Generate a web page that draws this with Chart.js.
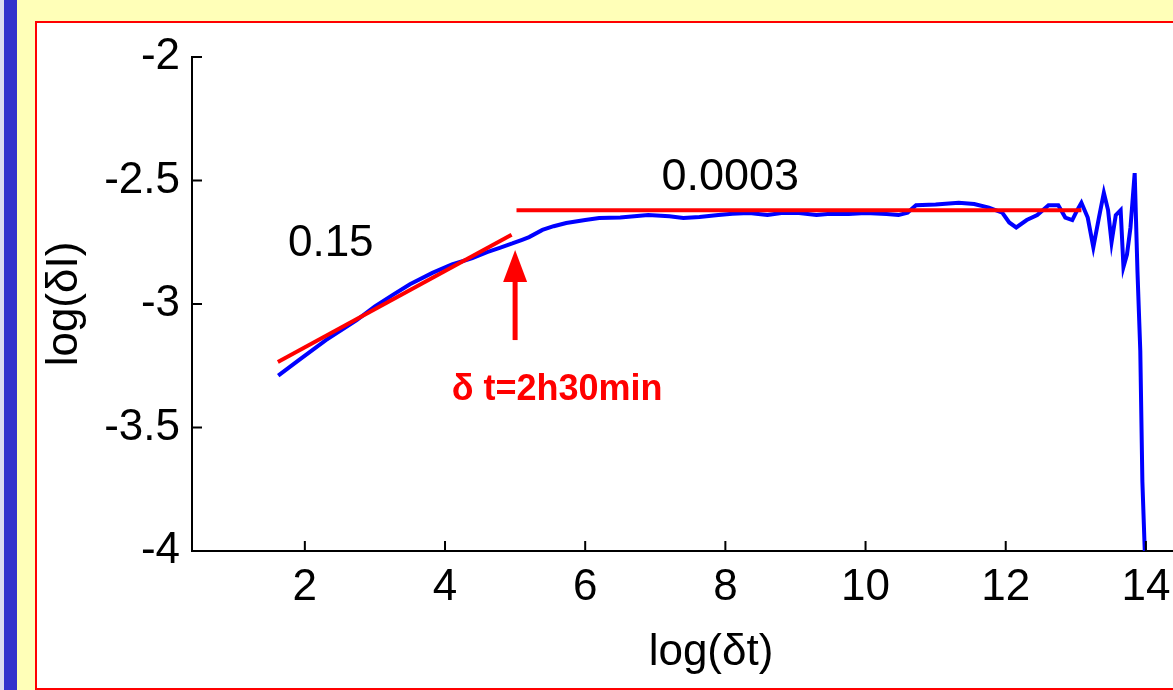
<!DOCTYPE html>
<html>
<head>
<meta charset="utf-8">
<script src="https://cdn.jsdelivr.net/npm/chart.js@4.4.1/dist/chart.umd.min.js"></script>
<style>
  body { margin: 0; background: #ffffb8; overflow: hidden; }
  #page { position: relative; width: 1173px; height: 690px; overflow: hidden; }
  #edge { position: absolute; left: 0; top: 0; width: 4px; height: 690px; background: #dcdcf0; }
  #bar { position: absolute; left: 4px; top: 0; width: 13px; height: 690px; background: #3333cc; }
  #frame { position: absolute; left: 35px; top: 21px; width: 1200px; height: 665px; background: #fff; border: 2px solid #ff0000; }
  #myChart { position: absolute; left: 0; top: 0; }
</style>
</head>
<body>
<div id="page">
  <div id="edge"></div>
  <div id="bar"></div>
  <div id="frame"></div>
  <canvas id="myChart" width="1230" height="690"></canvas>
</div>
<script>
// measured curve, log(dt) vs log(dI)
let curveX = [1.62, 1.9, 2.3, 2.74, 3.0, 3.25, 3.5, 3.82, 4.1, 4.39, 4.6, 4.78, 4.96, 5.1, 5.2, 5.39, 5.55, 5.73, 6.0, 6.2,
  6.5, 6.7, 6.9, 7.2, 7.4, 7.63, 7.9, 8.1, 8.34, 8.6, 8.8, 9.05, 9.3, 9.5, 9.76, 10.0, 10.3, 10.47, 10.6, 10.72,
  11.0, 11.33, 11.55, 11.76, 11.95, 12.05, 12.15, 12.3, 12.45, 12.61, 12.75, 12.85, 12.95, 13.02, 13.08, 13.17, 13.25, 13.33, 13.4, 13.46,
  13.51, 13.57, 13.64, 13.68, 13.73, 13.78, 13.84, 13.88, 13.92, 13.95, 13.99];
let curveY = [-3.29, -3.23, -3.146, -3.065, -3.01, -2.964, -2.92, -2.874, -2.84, -2.814, -2.79, -2.773, -2.755, -2.74, -2.729, -2.70, -2.685, -2.672, -2.66, -2.652,
  -2.65, -2.645, -2.64, -2.645, -2.652, -2.648, -2.64, -2.635, -2.632, -2.64, -2.632, -2.632, -2.64, -2.635, -2.636, -2.632, -2.636, -2.64, -2.63, -2.60,
  -2.597, -2.59, -2.595, -2.61, -2.63, -2.67, -2.69, -2.66, -2.64, -2.60, -2.60, -2.65, -2.66, -2.62, -2.59, -2.65, -2.77, -2.65, -2.55, -2.62,
  -2.75, -2.64, -2.62, -2.85, -2.80, -2.69, -2.47, -2.87, -3.19, -3.72, -4.05];

// fitted lines
let fitX = [1.615, 4.95];
let fitY = [-3.235, -2.72];
let flatX = [5.02, 13.08];
let flatY = [-2.62, -2.62];

let xTicks = [2, 4, 6, 8, 10, 12, 14];
let yTicks = [-4, -3.5, -3, -2.5, -2];

// text notes, in data units
let notes = [
  { text: '0.15', x: 2.37, y: -2.757, color: '#000', font: '44px "Liberation Sans", Arial' },
  { text: '0.0003', x: 8.07, y: -2.488, color: '#000', font: '45px "Liberation Sans", Arial' },
  { text: 'δ t=2h30min', x: 5.6, y: -3.35, color: '#ff0000', font: 'bold 36px "Liberation Sans", Arial' }
];
let arrowX = 5.0;
let arrowFrom = -3.146;
let arrowTo = -2.781;

const toPts = (xs, ys) => xs.map((x, i) => ({ x: x, y: ys[i] }));

const extras = {
  id: 'extras',
  afterDatasetsDraw(chart) {
    const c = chart.ctx;
    const xs = chart.scales.x, ys = chart.scales.y;
    const area = chart.chartArea;
    c.save();
    // ticks pointing inward
    c.strokeStyle = '#000';
    c.lineWidth = 2;
    c.beginPath();
    yTicks.forEach(v => {
      const py = ys.getPixelForValue(v);
      c.moveTo(area.left, py);
      c.lineTo(area.left + 10, py);
    });
    xTicks.forEach(v => {
      const px = xs.getPixelForValue(v);
      c.moveTo(px, area.bottom);
      c.lineTo(px, area.bottom - 10);
    });
    c.stroke();

    // arrow
    const ax = xs.getPixelForValue(arrowX);
    const a0 = ys.getPixelForValue(arrowFrom);
    const a1 = ys.getPixelForValue(arrowTo);
    c.strokeStyle = '#ff0000';
    c.fillStyle = '#ff0000';
    c.lineWidth = 5;
    c.beginPath();
    c.moveTo(ax, a0);
    c.lineTo(ax, a1 + 20);
    c.stroke();
    c.beginPath();
    c.moveTo(ax, a1);
    c.lineTo(ax - 12, a1 + 32);
    c.lineTo(ax + 12, a1 + 32);
    c.closePath();
    c.fill();

    // notes
    c.textAlign = 'center';
    c.textBaseline = 'middle';
    notes.forEach(n => {
      c.font = n.font;
      c.fillStyle = n.color;
      c.fillText(n.text, xs.getPixelForValue(n.x), ys.getPixelForValue(n.y));
    });
    c.restore();
  }
};

let ctx = document.getElementById('myChart').getContext('2d');

let myChart = new Chart(ctx, {
  type: 'line',
  data: {
    datasets: [
      { data: toPts(curveX, curveY), borderColor: '#0000ff', borderWidth: 4, pointRadius: 0, tension: 0, order: 1 },
      { data: toPts(fitX, fitY), borderColor: '#ff0000', borderWidth: 4, pointRadius: 0, order: 0 },
      { data: toPts(flatX, flatY), borderColor: '#ff0000', borderWidth: 4, pointRadius: 0, order: 0 }
    ]
  },
  options: {
    responsive: false,
    animation: false,
    layout: { padding: { left: 34, top: 57, right: 0, bottom: 7 } },
    plugins: { legend: { display: false }, tooltip: { enabled: false } },
    scales: {
      x: {
        type: 'linear',
        min: 0.39,
        max: 15.2,
        afterBuildTicks: (s) => { s.ticks = xTicks.map(v => ({ value: v })); },
        afterFit: (s) => { s.height = 132; },
        grid: { display: false, drawTicks: false },
        border: { display: true, color: '#000', width: 2 },
        ticks: { color: '#000', padding: 10, font: { family: '"Liberation Sans", Arial', size: 44 }, maxRotation: 0 },
        title: { display: true, text: 'log(δt)', color: '#000', font: { family: '"Liberation Sans", Arial', size: 44 } }
      },
      y: {
        min: -4,
        max: -2,
        afterBuildTicks: (s) => { s.ticks = yTicks.map(v => ({ value: v })); },
        afterFit: (s) => { s.width = 158; },
        grid: { display: false, drawTicks: false },
        border: { display: true, color: '#000', width: 2 },
        ticks: { color: '#000', padding: 12, font: { family: '"Liberation Sans", Arial', size: 44 }, callback: (v) => String(v) },
        title: { display: true, text: 'log(δI)', color: '#000', font: { family: '"Liberation Sans", Arial', size: 44 } }
      }
    }
  },
  plugins: [extras]
});
</script>
</body>
</html>
